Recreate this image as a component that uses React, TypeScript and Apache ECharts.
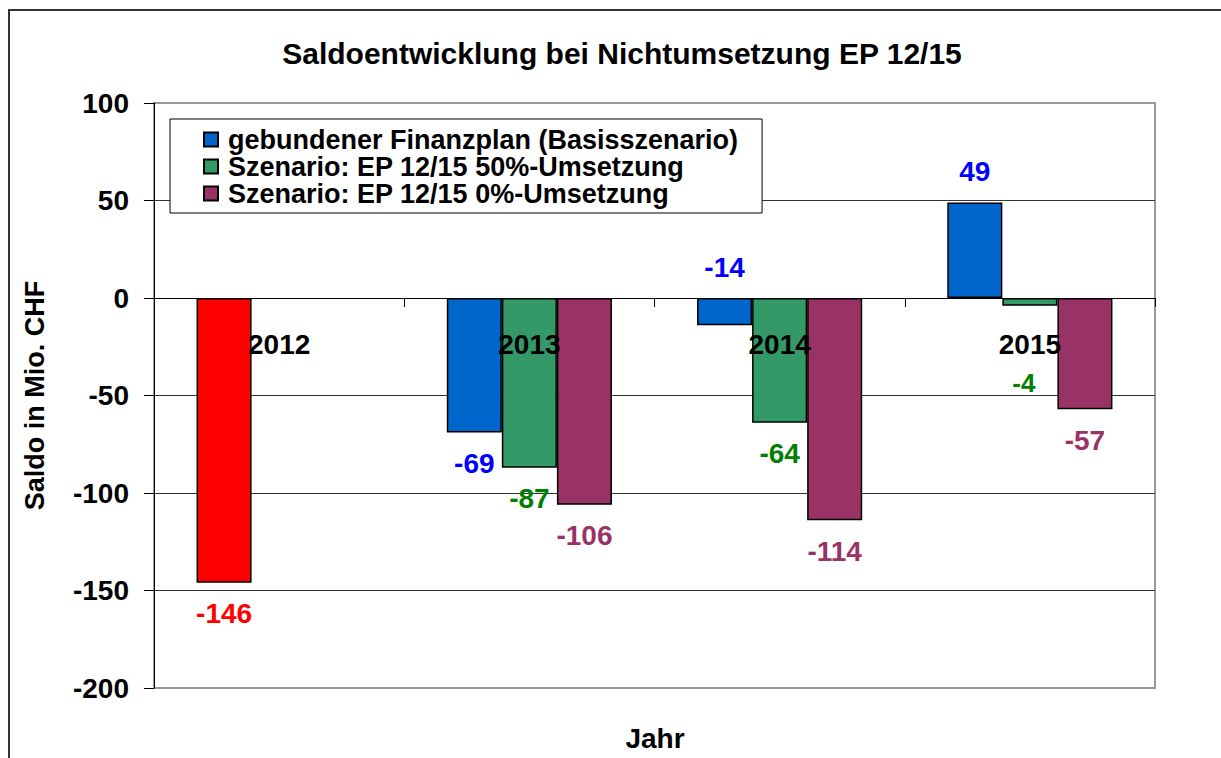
import React, { useEffect, useRef } from "react";
import * as echarts from "echarts";

const categories = ["2012", "2013", "2014", "2015"];
const basisValues = [-146, -69, -14, 49];
const scenario50Values: (number | null)[] = [null, -87, -64, -4];
const scenario0Values: (number | null)[] = [null, -106, -114, -57];
const yTicks = { min: -200, max: 100, interval: 50 };

const seriesNames = [
  "gebundener Finanzplan (Basisszenario)",
  "Szenario: EP 12/15 50%-Umsetzung",
  "Szenario: EP 12/15 0%-Umsetzung",
];

const FONT = "'Liberation Sans', Arial, Helvetica, sans-serif";
const CHART_H = 758;
const GRID_BOTTOM = 70;

export default function App() {
  const ref = useRef<HTMLDivElement>(null);

  useEffect(() => {
    if (!ref.current) return;
    const chart = echarts.init(ref.current, undefined, { renderer: "svg" });

    const labelBase = {
      show: true,
      position: "bottom" as const,
      distance: 17,
      fontFamily: FONT,
      fontWeight: "bold" as const,
      fontSize: 28,
    };

    const basisData = basisValues.map((v, i) => {
      if (i === 0) {
        return {
          value: v,
          itemStyle: { color: "#FF0000" },
          label: { color: "#FF0000" },
        };
      }
      if (v >= 0 || i === 2) {
        return { value: v, label: { position: "top" as const } };
      }
      return { value: v };
    });

    const s50Data = scenario50Values.map((v, i) => {
      if (v === null) return "-";
      if (i === 3) {
        return { value: v, label: { distance: 64, fontSize: 26, offset: [-6, 0] } };
      }
      return { value: v };
    });

    const s0Data = scenario0Values.map((v) => (v === null ? "-" : v));

    const barCommon = {
      type: "bar" as const,
      barGap: "0%",
      barCategoryGap: "34%",
      z: 2,
    };

    chart.setOption({
      animation: false,
      backgroundColor: "#ffffff",
      textStyle: { fontFamily: FONT },
      title: {
        text: "Saldoentwicklung bei Nichtumsetzung EP 12/15",
        left: 622,
        textAlign: "center",
        top: 38,
        padding: 0,
        textStyle: {
          fontFamily: FONT,
          fontWeight: "bold",
          fontSize: 30,
          color: "#000",
        },
      },
      legend: {
        orient: "vertical",
        left: 170,
        top: 119,
        padding: [7, 24, 6, 33],
        itemGap: 0,
        itemWidth: 14,
        itemHeight: 14,
        borderColor: "#000",
        borderWidth: 1,
        backgroundColor: "#fff",
        icon: "rect",
        data: seriesNames,
        textStyle: {
          fontFamily: FONT,
          fontWeight: "bold",
          fontSize: 27,
          lineHeight: 25,
          color: "#000",
          padding: [0, 0, 0, 5],
        },
      },
      grid: {
        left: 154,
        top: 103,
        right: 66,
        bottom: GRID_BOTTOM,
        show: true,
        borderColor: "#999",
        borderWidth: 2,
        backgroundColor: "transparent",
      },
      graphic: [
        {
          type: "rect",
          shape: { x: 9, y: 10, width: 1400, height: 1000 },
          style: { fill: "none", stroke: "#333", lineWidth: 2 },
          silent: true,
          z: -10,
        },
        {
          type: "text",
          x: 655,
          y: 738,
          style: {
            text: "Jahr",
            font: `bold 28px ${FONT}`,
            fill: "#000",
            textAlign: "center",
            textVerticalAlign: "middle",
          },
        },
      ],
      xAxis: {
        type: "category",
        data: categories,
        position: "bottom",
        offset: 0,
        z: 10,
        axisLine: {
          onZero: false,
          lineStyle: { color: "#000", width: 1 },
        },
        axisTick: {
          show: true,
          length: 9,
          lineStyle: { color: "#000", width: 1 },
        },
        axisLabel: {
          fontFamily: FONT,
          fontWeight: "bold",
          fontSize: 28,
          color: "#000",
          margin: 32,
        },
        splitLine: { show: false },
      },
      yAxis: {
        type: "value",
        min: yTicks.min,
        max: yTicks.max,
        interval: yTicks.interval,
        name: "Saldo in Mio. CHF",
        nameLocation: "middle",
        nameGap: 106,
        nameTextStyle: {
          fontFamily: FONT,
          fontWeight: "bold",
          fontSize: 27,
          color: "#000",
        },
        axisLine: { show: true, lineStyle: { color: "#000", width: 1 } },
        axisTick: {
          show: true,
          length: 10,
          lineStyle: { color: "#000", width: 1 },
        },
        axisLabel: {
          fontFamily: FONT,
          fontWeight: "bold",
          fontSize: 28,
          color: "#000",
          margin: 25,
        },
        splitLine: {
          show: true,
          showMinLine: false,
          showMaxLine: false,
          lineStyle: { color: "#333", width: 1 },
        },
      },
      series: [
        {
          ...barCommon,
          name: seriesNames[0],
          data: basisData,
          itemStyle: { color: "#0066CC", borderColor: "#000", borderWidth: 1.5 },
          label: { ...labelBase, color: "#0000FF" },
        },
        {
          ...barCommon,
          name: seriesNames[1],
          data: s50Data,
          itemStyle: { color: "#339966", borderColor: "#000", borderWidth: 1.5 },
          label: { ...labelBase, color: "#008000" },
        },
        {
          ...barCommon,
          name: seriesNames[2],
          data: s0Data,
          itemStyle: { color: "#993366", borderColor: "#000", borderWidth: 1.5 },
          label: { ...labelBase, color: "#993366" },
        },
      ],
    });

    // Move the category axis (line, ticks, labels) up to the value axis' zero line.
    const zeroPx = chart.convertToPixel({ yAxisIndex: 0 }, 0) as number;
    const gridBottomPx = CHART_H - GRID_BOTTOM;
    chart.setOption({ xAxis: { offset: zeroPx - gridBottomPx } });

    return () => {
      chart.dispose();
    };
  }, []);

  return (
    <div
      ref={ref}
      style={{
        position: "fixed",
        left: 0,
        top: 0,
        width: 1221,
        height: CHART_H,
        background: "#fff",
      }}
    />
  );
}
